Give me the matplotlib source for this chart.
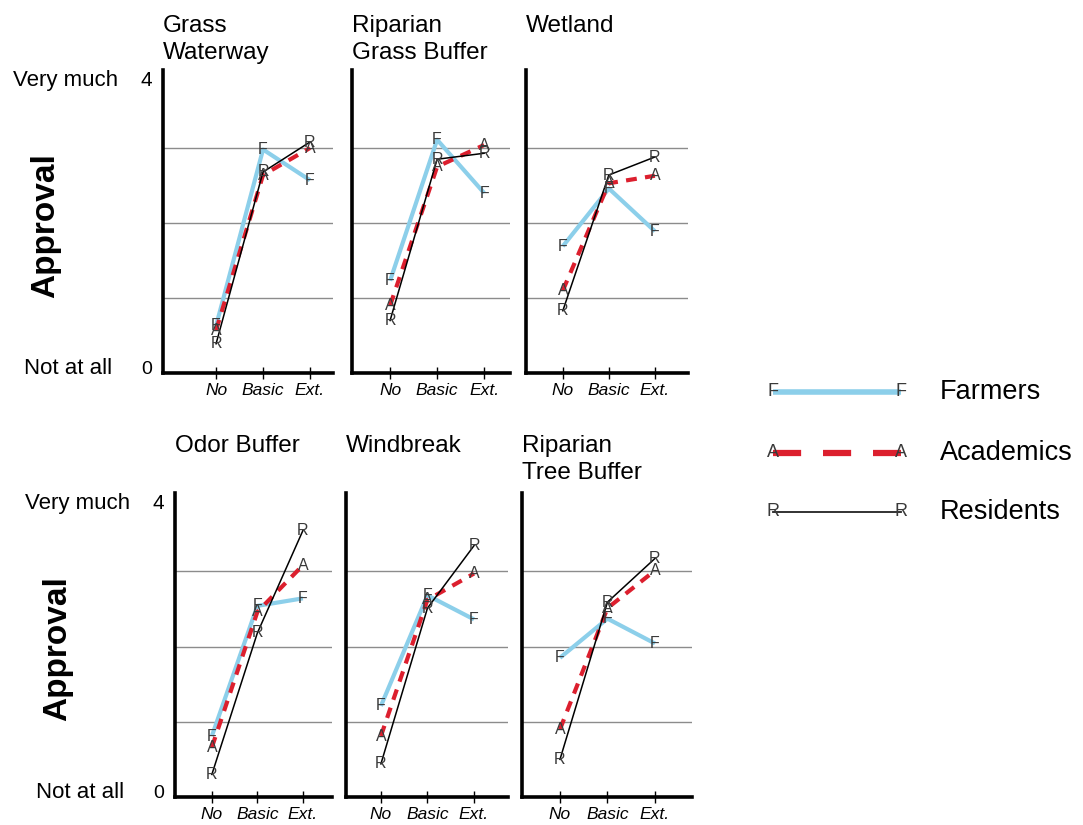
import matplotlib
matplotlib.use('Agg')
import matplotlib.pyplot as plt

plt.rcParams['font.family'] = ['Liberation Sans', 'DejaVu Sans']

# data (approval 0..4)
titles = ['Grass\nWaterway', 'Riparian\nGrass Buffer', 'Wetland',
          'Odor Buffer', 'Windbreak', 'Riparian\nTree Buffer']
levels = ['No', 'Basic', 'Ext.']
farmers = [[0.63, 2.98, 2.57], [1.23, 3.11, 2.40], [1.69, 2.46, 1.89],
           [0.81, 2.54, 2.64], [1.21, 2.68, 2.36], [1.85, 2.37, 2.04]]
academics = [[0.57, 2.64, 3.00], [0.90, 2.75, 3.04], [1.10, 2.53, 2.63],
             [0.66, 2.46, 3.08], [0.81, 2.62, 2.97], [0.90, 2.51, 3.01]]
residents = [[0.39, 2.68, 3.08], [0.70, 2.85, 2.93], [0.83, 2.64, 2.88],
             [0.30, 2.18, 3.54], [0.44, 2.51, 3.34], [0.50, 2.59, 3.17]]
group_names = ['Farmers', 'Academics', 'Residents']
group_letters = ['F', 'A', 'R']

W, H = 1083, 825
# axes boxes in pixels: left, top, right, bottom
boxes = [(163, 70, 333, 373), (352, 70, 510, 373), (526, 70, 688, 373),
         (175, 493, 332, 797), (346, 493, 508, 797), (522, 493, 692, 797)]
xlims = [(-1.13, 2.49), (-0.81, 2.55), (-0.80, 2.72),
         (-0.81, 2.64), (-0.75, 2.73), (-0.80, 2.78)]

blue = '#8ccfea'
red = '#dc1f2e'
letter_col = '#3a3a3a'
styles = [dict(color=blue, lw=3.0, solid_capstyle='butt'),
          dict(color=red, lw=3.0, dashes=(2.6, 2.0)),
          dict(color='black', lw=1.1)]

fig = plt.figure(figsize=(W / 100, H / 100), dpi=100)

x = range(len(levels))
for i in range(6):
    l, t, r, b = boxes[i]
    ax = fig.add_axes([l / W, 1 - b / H, (r - l) / W, (b - t) / H])
    for vals, st, let in zip([farmers[i], academics[i], residents[i]], styles, group_letters):
        ax.plot(x, vals, **st)
        for xi, yi in zip(x, vals):
            ax.text(xi, yi, let, ha='center', va='center', fontsize=11.5,
                    color=letter_col, zorder=5)
    ax.set_xlim(*xlims[i])
    ax.set_ylim(0, 4.04)
    ax.set_xticks(list(x))
    ax.set_xticklabels(levels, fontstyle='italic', fontsize=12.5)
    ax.tick_params(axis='x', direction='inout', length=8, width=1, pad=3)
    ax.set_yticks([1, 2, 3])
    ax.tick_params(axis='y', length=0, labelleft=False)
    ax.grid(axis='y', color='#8c8c8c', lw=1.0)
    ax.set_axisbelow(True)
    for s in ['top', 'right']:
        ax.spines[s].set_visible(False)
    for s in ['left', 'bottom']:
        ax.spines[s].set_linewidth(2.6)
    top_off = 55 if i < 3 else 58
    ax.annotate(titles[i], xy=(0, 1), xycoords='axes fraction',
                xytext=(0, top_off), textcoords='offset pixels',
                ha='left', va='top', fontsize=17.5, linespacing=1.3)
    if i % 3 == 0:
        trans = ('axes fraction', 'data')
        ax.annotate('4', xy=(0, 4), xycoords=trans, xytext=(-11, -7),
                    textcoords='offset pixels', ha='right', va='center', fontsize=15)
        ax.annotate('0', xy=(0, 0), xycoords=trans, xytext=(-11, 4),
                    textcoords='offset pixels', ha='right', va='center', fontsize=14)
        ax.annotate('Very much', xy=(0, 4), xycoords=trans, xytext=(-45, -7),
                    textcoords='offset pixels', ha='right', va='center', fontsize=16)
        ax.annotate('Not at all', xy=(0, 0), xycoords=trans, xytext=(-51, 5),
                    textcoords='offset pixels', ha='right', va='center', fontsize=16)
        ax.annotate('Approval', xy=(0, 0.5), xycoords='axes fraction',
                    xytext=(-117, -4), textcoords='offset pixels', rotation=90,
                    ha='center', va='center', fontsize=24, fontweight='bold')

# legend panel
lax = fig.add_axes([760 / W, 1 - 540 / H, 323 / W, 170 / H])
lax.set_xlim(0, 1)
lax.set_ylim(0, 1)
lax.axis('off')
leg_y = [0.871, 0.512, 0.165]
leg_styles = [dict(color=blue, lw=4.0, solid_capstyle='butt'),
              dict(color=red, lw=4.5, dashes=(4.5, 3.5)),
              dict(color='#222222', lw=1.3)]
for yy, st, let, name in zip(leg_y, leg_styles, group_letters, group_names):
    lax.plot([0.04, 0.435], [yy, yy], **st)
    lax.text(0.04, yy, let, ha='center', va='center', fontsize=13, color=letter_col, zorder=5)
    lax.text(0.435, yy, let, ha='center', va='center', fontsize=13, color=letter_col, zorder=5)
    lax.text(0.557, yy, name, ha='left', va='center', fontsize=19.5)

fig.savefig('out.png', dpi=100)
